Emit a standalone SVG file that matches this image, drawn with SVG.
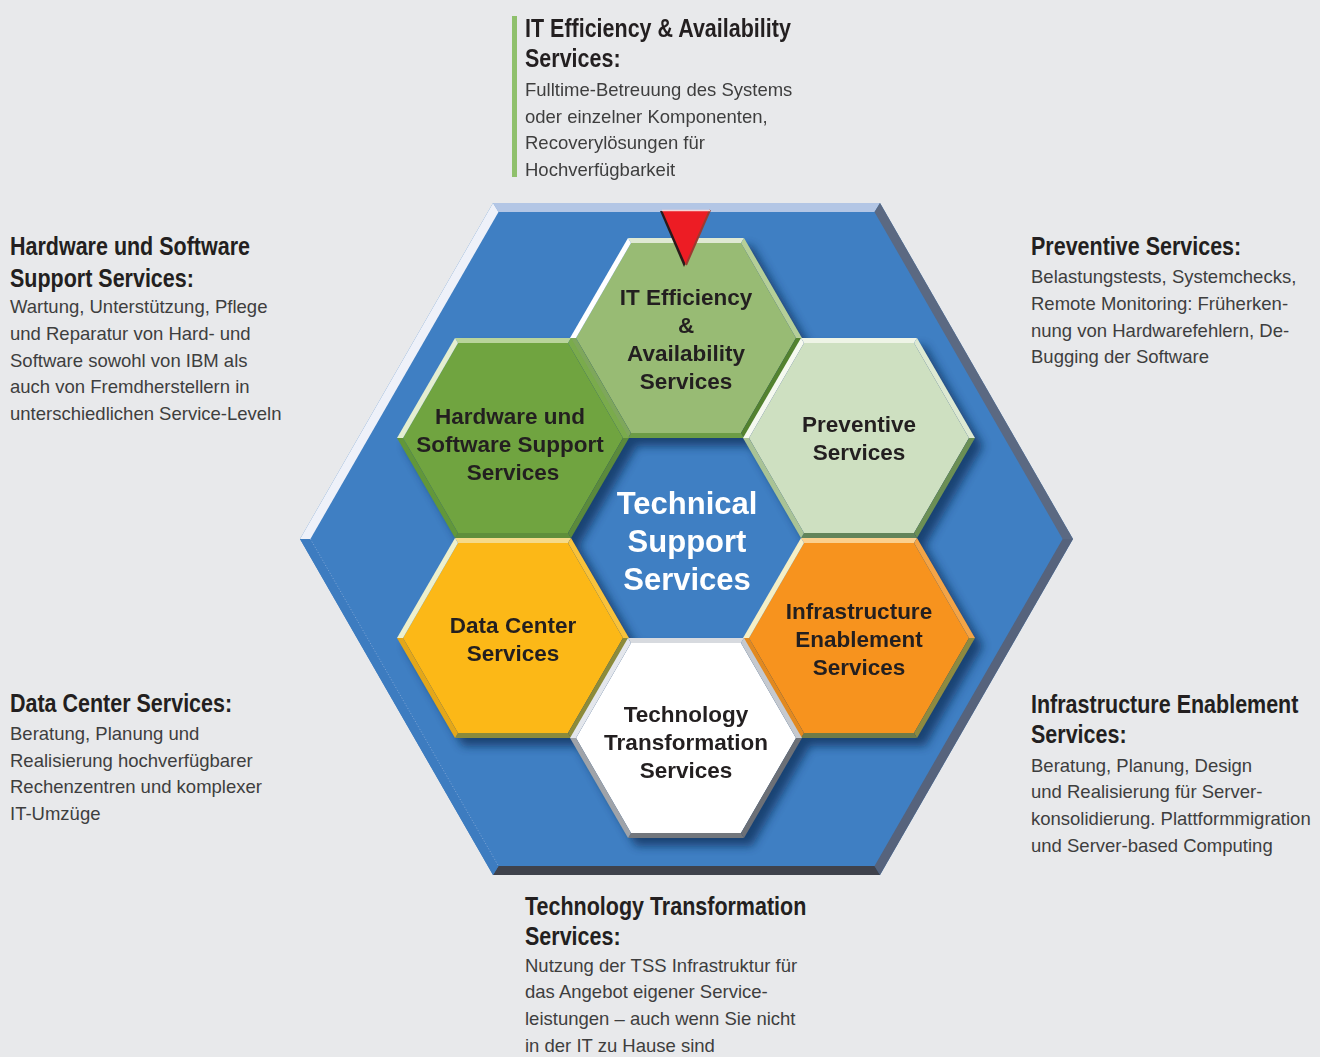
<svg xmlns="http://www.w3.org/2000/svg" xmlns:xlink="http://www.w3.org/1999/xlink" width="1320" height="1057" viewBox="0 0 1320 1057">
<style>
.hl{font-family:"Liberation Sans",Arial,sans-serif;font-weight:bold;font-size:22.5px;fill:#231f20;text-anchor:middle}
.title{font-family:"Liberation Sans",Arial,sans-serif;font-weight:bold;font-size:31px;fill:#ffffff;text-anchor:middle}
.dh{font-family:"Liberation Sans",Arial,sans-serif;font-weight:bold;font-size:25px;fill:#231f20}
.db{font-family:"Liberation Sans",Arial,sans-serif;font-size:18.5px;fill:#3e3e3e}
</style>
<defs>
<path id="hOut" d="M-116,0 L-58,-100 L58,-100 L116,0 L58,100 L-58,100 Z"/>
<path id="hTop" d="M-58,-100 L58,-100 L55,-95 L-55,-95 Z"/>
<path id="hTR" d="M58,-100 L116,0 L110,0 L55,-95 Z"/>
<path id="hBR" d="M116,0 L58,100 L55,95 L110,0 Z"/>
<path id="hBot" d="M58,100 L-58,100 L-55,95 L55,95 Z"/>
<path id="hBL" d="M-58,100 L-116,0 L-110,0 L-55,95 Z"/>
<path id="hTL" d="M-116,0 L-58,-100 L-55,-95 L-110,0 Z"/>
<path id="hFace" d="M-110,0 L-55,-95 L55,-95 L110,0 L55,95 L-55,95 Z"/>
<filter id="sh" x="-30%" y="-30%" width="160%" height="160%">
<feGaussianBlur stdDeviation="5"/>
</filter>
</defs>
<rect x="0" y="0" width="1320" height="1057" fill="#e8e9eb"/>

<g id="frame">
<polygon points="300,539 493,203 880,203 1073,539 880,875 493,875" fill="#3f7fc3"/>
<polygon points="493,203 880,203 874.5,212 498.5,212" fill="#b3c6e5"/>
<polygon points="880,203 1073,539 1062.6,539 874.5,212" fill="#5b6982"/>
<polygon points="1073,539 880,875 874.5,866 1062.6,539" fill="#56637c"/>
<polygon points="880,875 493,875 498.5,866 874.5,866" fill="#3f424c"/>
<polygon points="493,875 300,539 310.4,539 498.5,866" fill="#3d7cc0"/>
<polygon points="300,539 493,203 498.5,212 310.4,539" fill="#eef1f9"/>
<line x1="310.4" y1="539" x2="498.5" y2="866" stroke="#8fb0dc" stroke-width="0.8" stroke-dasharray="1,2"/>
</g>

<g id="shadows" fill="#0f2d58" opacity="0.75" filter="url(#sh)">
<use xlink:href="#hOut" transform="translate(694,346)"/>
<use xlink:href="#hOut" transform="translate(867,446)"/>
<use xlink:href="#hOut" transform="translate(867,646)"/>
<use xlink:href="#hOut" transform="translate(694,746)"/>
<use xlink:href="#hOut" transform="translate(521,646)"/>
<use xlink:href="#hOut" transform="translate(521,446)"/>
</g>

<g id="center-title">
<text class="title" x="687" y="514">Technical</text>
<text class="title" x="687" y="552">Support</text>
<text class="title" x="687" y="590">Services</text>
</g>

<g id="hex-it" transform="translate(686,338)">
<use xlink:href="#hFace" fill="#98bb74"/>
<use xlink:href="#hTop" fill="#dfe9d3"/>
<use xlink:href="#hTR" fill="#b5cf98"/>
<use xlink:href="#hBR" fill="#53822f"/>
<use xlink:href="#hBot" fill="#6c9c46"/>
<use xlink:href="#hBL" fill="#7ea75b"/>
<use xlink:href="#hTL" fill="#ffffff"/>
<text class="hl" x="0" y="-33">IT Efficiency</text>
<text class="hl" x="0" y="-5">&amp;</text>
<text class="hl" x="0" y="23">Availability</text>
<text class="hl" x="0" y="51">Services</text>
</g>

<g id="hex-hw" transform="translate(513,438)">
<use xlink:href="#hFace" fill="#70a440"/>
<use xlink:href="#hTop" fill="#b9d49b"/>
<use xlink:href="#hTR" fill="#7aab4c"/>
<use xlink:href="#hBR" fill="#5b8a3c"/>
<use xlink:href="#hBot" fill="#5f8f3b"/>
<use xlink:href="#hBL" fill="#62973a"/>
<use xlink:href="#hTL" fill="#e4eed0"/>
<text class="hl" x="-3" y="-14">Hardware und</text>
<text class="hl" x="-3" y="14">Software Support</text>
<text class="hl" x="0" y="42">Services</text>
</g>

<g id="hex-prev" transform="translate(859,438)">
<use xlink:href="#hFace" fill="#cee0c1"/>
<use xlink:href="#hTop" fill="#eef4e6"/>
<use xlink:href="#hTR" fill="#dde9d2"/>
<use xlink:href="#hBR" fill="#6b8f55"/>
<use xlink:href="#hBot" fill="#62845a"/>
<use xlink:href="#hBL" fill="#a9c396"/>
<use xlink:href="#hTL" fill="#f5f9ef"/>
<text class="hl" x="0" y="-6">Preventive</text>
<text class="hl" x="0" y="22">Services</text>
</g>

<g id="hex-infra" transform="translate(859,638)">
<use xlink:href="#hFace" fill="#f7931e"/>
<use xlink:href="#hTop" fill="#fbd08e"/>
<use xlink:href="#hTR" fill="#f4a446"/>
<use xlink:href="#hBR" fill="#8d8a40"/>
<use xlink:href="#hBot" fill="#6f7b48"/>
<use xlink:href="#hBL" fill="#e2891f"/>
<use xlink:href="#hTL" fill="#f5efc6"/>
<text class="hl" x="0" y="-19">Infrastructure</text>
<text class="hl" x="0" y="9">Enablement</text>
<text class="hl" x="0" y="37">Services</text>
</g>

<g id="hex-dc" transform="translate(513,638)">
<use xlink:href="#hFace" fill="#fcb817"/>
<use xlink:href="#hTop" fill="#f5da8a"/>
<use xlink:href="#hTR" fill="#f9c23a"/>
<use xlink:href="#hBR" fill="#8c8b3b"/>
<use xlink:href="#hBot" fill="#8a8a3c"/>
<use xlink:href="#hBL" fill="#e4a719"/>
<use xlink:href="#hTL" fill="#eef0cc"/>
<text class="hl" x="0" y="-5">Data Center</text>
<text class="hl" x="0" y="23">Services</text>
</g>

<g id="hex-tt" transform="translate(686,738)">
<use xlink:href="#hFace" fill="#ffffff"/>
<use xlink:href="#hTop" fill="#d7dadf"/>
<use xlink:href="#hTR" fill="#c5c9cf"/>
<use xlink:href="#hBR" fill="#6c7077"/>
<use xlink:href="#hBot" fill="#73777d"/>
<use xlink:href="#hBL" fill="#9fa3a9"/>
<use xlink:href="#hTL" fill="#e4e7ec"/>
<text class="hl" x="0" y="-16">Technology</text>
<text class="hl" x="0" y="12">Transformation</text>
<text class="hl" x="0" y="40">Services</text>
</g>

<g id="pointer">
<polygon points="660,211 708,211 684,267" fill="#2a1a1a"/>
<polygon points="662,210 710,210 686,265" fill="#ed1c24"/>
<line x1="710" y1="210" x2="686" y2="265" stroke="#9c3a30" stroke-width="2"/>
<line x1="662" y1="210.5" x2="710" y2="210.5" stroke="#f6d3d3" stroke-width="1.5"/>
</g>

<g id="desc-it">
<rect x="512" y="16" width="5" height="161" fill="#8fc06c"/>
<text class="dh" transform="translate(525,36.7) scale(0.86,1)">IT Efficiency &amp; Availability</text>
<text class="dh" transform="translate(525,66.7) scale(0.86,1)">Services:</text>
<text class="db" x="525" y="96">Fulltime-Betreuung des Systems</text>
<text class="db" x="525" y="122.6">oder einzelner Komponenten,</text>
<text class="db" x="525" y="149.2">Recoverylösungen für</text>
<text class="db" x="525" y="175.8">Hochverfügbarkeit</text>
</g>

<g id="desc-hw">
<text class="dh" transform="translate(10,255) scale(0.86,1)">Hardware und Software</text>
<text class="dh" transform="translate(10,286.7) scale(0.86,1)">Support Services:</text>
<text class="db" x="10" y="313.3">Wartung, Unterstützung, Pflege</text>
<text class="db" x="10" y="340">und Reparatur von Hard- und</text>
<text class="db" x="10" y="366.7">Software sowohl von IBM als</text>
<text class="db" x="10" y="393.3">auch von Fremdherstellern in</text>
<text class="db" x="10" y="420">unterschiedlichen Service-Leveln</text>
</g>

<g id="desc-prev">
<text class="dh" transform="translate(1031,255) scale(0.86,1)">Preventive Services:</text>
<text class="db" x="1031" y="283.3">Belastungstests, Systemchecks,</text>
<text class="db" x="1031" y="310">Remote Monitoring: Früherken-</text>
<text class="db" x="1031" y="336.7">nung von Hardwarefehlern, De-</text>
<text class="db" x="1031" y="363.3">Bugging der Software</text>
</g>

<g id="desc-dc">
<text class="dh" transform="translate(10,711.7) scale(0.86,1)">Data Center Services:</text>
<text class="db" x="10" y="740">Beratung, Planung und</text>
<text class="db" x="10" y="766.7">Realisierung hochverfügbarer</text>
<text class="db" x="10" y="793.3">Rechenzentren und komplexer</text>
<text class="db" x="10" y="820">IT-Umzüge</text>
</g>

<g id="desc-infra">
<text class="dh" transform="translate(1031,713.3) scale(0.86,1)">Infrastructure Enablement</text>
<text class="dh" transform="translate(1031,743.3) scale(0.86,1)">Services:</text>
<text class="db" x="1031" y="771.7">Beratung, Planung, Design</text>
<text class="db" x="1031" y="798.3">und Realisierung für Server-</text>
<text class="db" x="1031" y="825">konsolidierung. Plattformmigration</text>
<text class="db" x="1031" y="851.7">und Server-based Computing</text>
</g>

<g id="desc-tt">
<text class="dh" transform="translate(525,915) scale(0.86,1)">Technology Transformation</text>
<text class="dh" transform="translate(525,945) scale(0.86,1)">Services:</text>
<text class="db" x="525" y="971.7">Nutzung der TSS Infrastruktur für</text>
<text class="db" x="525" y="998.3">das Angebot eigener Service-</text>
<text class="db" x="525" y="1025">leistungen – auch wenn Sie nicht</text>
<text class="db" x="525" y="1051.7">in der IT zu Hause sind</text>
</g>
</svg>
